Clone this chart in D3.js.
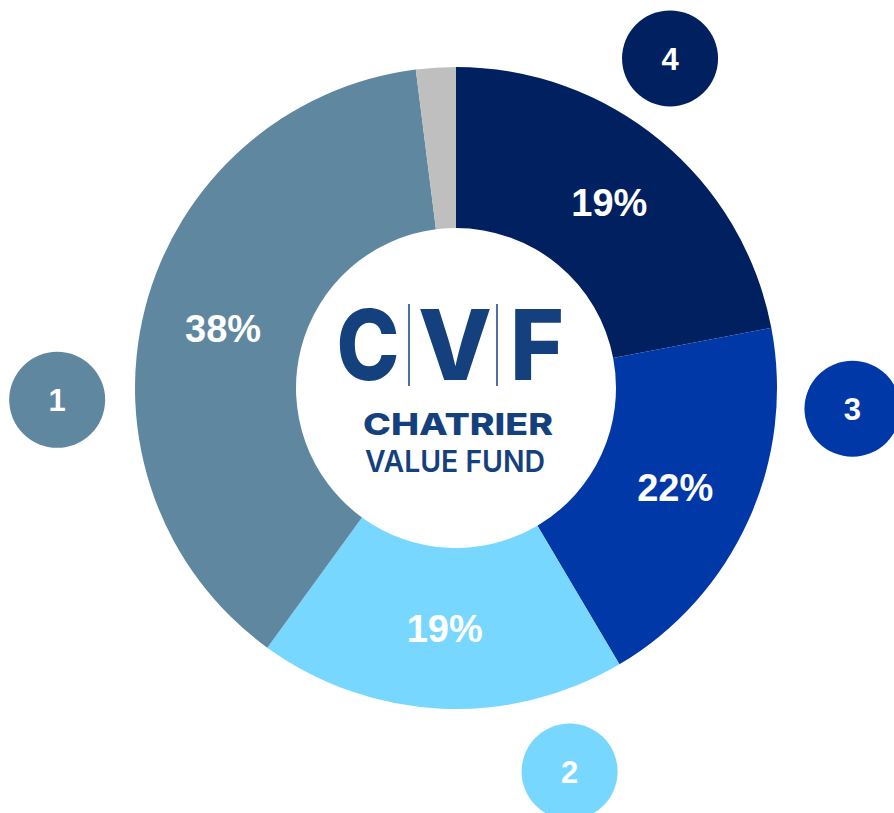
<!DOCTYPE html>
<html>
<head>
<meta charset="utf-8">
<script src="https://cdn.jsdelivr.net/npm/d3@7"></script>
<style>
  body { margin: 0; background: #fff; }
  svg { display: block; }
</style>
</head>
<body>
<div id="chart"></div>
<script>
// Slice data, clockwise from 12 o'clock
var segments = ["4", "3", "2", "1", "other"];
var shares = [22, 19.5, 18.5, 38, 2];
var labels = ["19%", "22%", "19%", "38%", ""];
var colors = ["#002060", "#0038A8", "#78D7FF", "#5F87A0", "#BFBFBF"];

// Numbered bubbles around the ring (angle in degrees from top, distance from centre)
var bubbleNames = ["4", "3", "2", "1"];
var bubbleAngles = [33, 93, 163.5, 268.3];
var bubbleDists = [393, 397, 400, 399];
var bubbleColors = ["#002060", "#0038A8", "#78D7FF", "#5F87A0"];

var width = 894, height = 813;
var cx = 456, cy = 388;
var outerR = 321, innerR = 160, bubbleR = 48;

var svg = d3.select("#chart").append("svg")
    .attr("width", width)
    .attr("height", height);

var g = svg.append("g")
    .attr("transform", "translate(" + cx + "," + cy + ")");

var pie = d3.pie().sort(null).value(function(d) { return d; });
var arc = d3.arc().innerRadius(innerR).outerRadius(outerR);
var arcs = pie(shares);

g.selectAll(".slice")
    .data(arcs)
    .enter().append("path")
    .attr("class", "slice")
    .attr("d", arc)
    .style("fill", function(d, i) { return colors[i]; });

g.selectAll(".pct")
    .data(arcs)
    .enter().append("text")
    .attr("class", "pct")
    .attr("transform", function(d) { return "translate(" + arc.centroid(d) + ")"; })
    .attr("text-anchor", "middle")
    .attr("dy", "0.36em")
    .style("fill", "#fff")
    .style("font-family", "'Liberation Sans', Arial, sans-serif")
    .style("font-weight", "bold")
    .style("font-size", "38px")
    .text(function(d, i) { return labels[i]; });

// bubbles
var angle = d3.scaleLinear().domain([0, 360]).range([0, 2 * Math.PI]);
var bubbles = g.selectAll(".bubble")
    .data(bubbleNames)
    .enter().append("g")
    .attr("class", "bubble")
    .attr("transform", function(d, i) {
        var a = angle(bubbleAngles[i]);
        return "translate(" + (Math.sin(a) * bubbleDists[i]) + "," + (-Math.cos(a) * bubbleDists[i]) + ")";
    });

bubbles.append("circle")
    .attr("r", bubbleR)
    .style("fill", function(d, i) { return bubbleColors[i]; });

bubbles.append("text")
    .attr("text-anchor", "middle")
    .attr("dy", "0.36em")
    .style("fill", "#fff")
    .style("font-family", "'Liberation Sans', Arial, sans-serif")
    .style("font-weight", "bold")
    .style("font-size", "31px")
    .text(function(d) { return d; });

// logo in the hole
var logoColor = "#15407E";
var logo = g.append("g").attr("class", "logo");
var letters = [["C", -88, 63], ["V", -1, 74], ["F", 81, 54]];
logo.selectAll(".letter")
    .data(letters)
    .enter().append("text")
    .attr("class", "letter")
    .attr("x", function(d) { return d[1]; })
    .attr("y", -8)
    .attr("text-anchor", "middle")
    .attr("textLength", function(d) { return d[2]; })
    .attr("lengthAdjust", "spacingAndGlyphs")
    .style("fill", logoColor)
    .style("font-family", "Inter, 'Open Sans', sans-serif")
    .style("font-weight", "800")
    .style("font-size", "97px")
    .text(function(d) { return d[0]; });

logo.selectAll(".bar")
    .data([-47, 41])
    .enter().append("line")
    .attr("class", "bar")
    .attr("x1", function(d) { return d; })
    .attr("x2", function(d) { return d; })
    .attr("y1", -84)
    .attr("y2", -2)
    .style("stroke", logoColor)
    .style("stroke-width", 1.5);

logo.append("text")
    .attr("x", 2)
    .attr("y", 47)
    .attr("text-anchor", "middle")
    .attr("textLength", 190)
    .attr("lengthAdjust", "spacingAndGlyphs")
    .style("fill", logoColor)
    .style("font-family", "Inter, 'Open Sans', sans-serif")
    .style("font-weight", "800")
    .style("font-size", "30px")
    .text("CHATRIER");

logo.append("text")
    .attr("x", -1)
    .attr("y", 84)
    .attr("text-anchor", "middle")
    .attr("textLength", 180)
    .attr("lengthAdjust", "spacingAndGlyphs")
    .style("fill", logoColor)
    .style("font-family", "Inter, 'Open Sans', sans-serif")
    .style("font-weight", "600")
    .style("font-size", "30px")
    .text("VALUE FUND");
</script>
</body>
</html>
